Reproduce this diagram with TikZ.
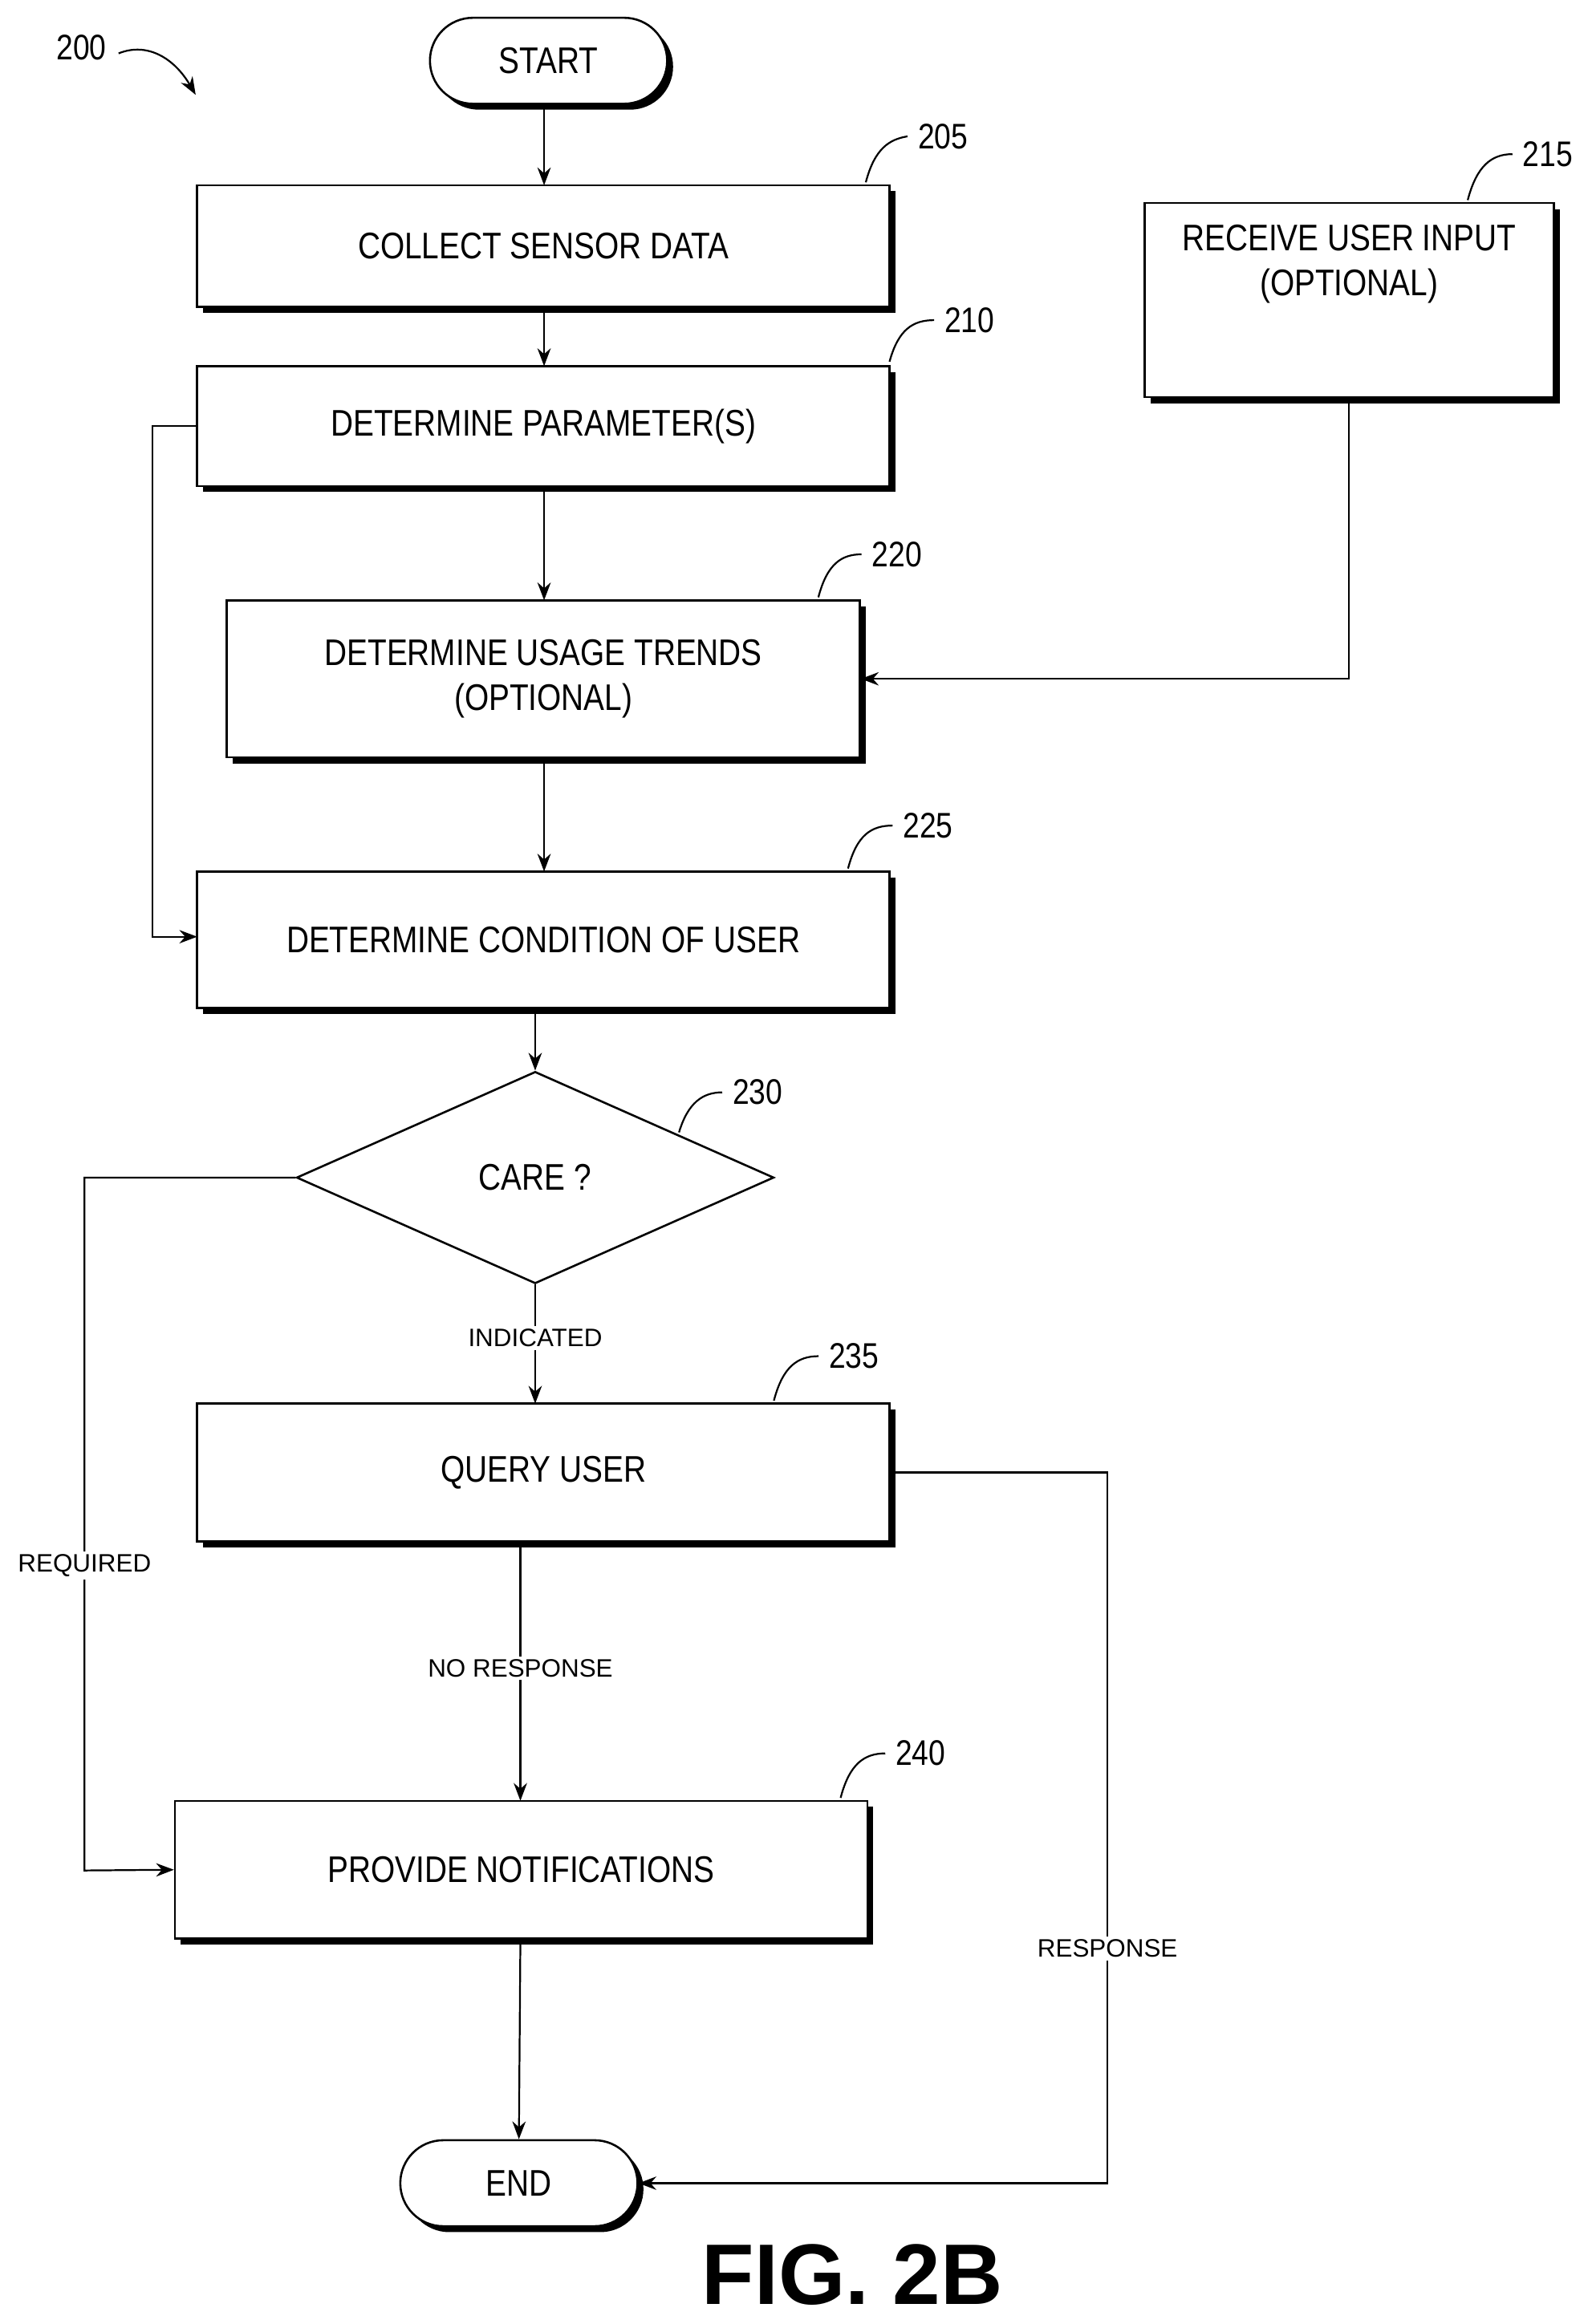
\documentclass[tikz,border=0pt]{standalone}
\usepackage{fontspec}
\setmainfont{Liberation Sans}
\newfontfamily\nar[FakeStretch=0.84]{Liberation Sans}
\usetikzlibrary{shapes.geometric,shadows,arrows.meta}
\begin{document}
\begin{tikzpicture}[x=0.5pt,y=-0.5pt,
 box/.style={draw,fill=white,line width=0.7pt,font=\nar\fontsize{12.5}{15}\selectfont,align=center,inner sep=0pt,
   drop shadow={shadow xshift=2pt,shadow yshift=-2pt,opacity=1,fill=black}},
 pill/.style={box,rounded corners=14.5pt},
 arr/.style={-{Stealth[length=6pt,width=4.5pt]},line width=0.6pt},
 ln/.style={line width=0.6pt},
 lab/.style={font=\fontsize{8.5}{10}\selectfont,fill=white,inner sep=1pt},
 num/.style={font=\nar\fontsize{12}{14}\selectfont}]
\useasboundingbox (0,0) rectangle (1071,1568);
\node[pill,minimum width=80pt,minimum height=29pt] (start) at (370,41) {START};
\node[box,minimum width=233.5pt,minimum height=41pt] (b205) at (366.5,166) {COLLECT SENSOR DATA};
\node[box,minimum width=233.5pt,minimum height=40.5pt] (b210) at (366.5,287.5) {DETERMINE PARAMETER(S)};
\node[box,minimum width=138pt,minimum height=65.5pt] (b215) at (910,202.5) {RECEIVE USER INPUT\\(OPTIONAL)\\[12pt]};
\node[box,minimum width=213.5pt,minimum height=53pt] (b220) at (366.5,458) {DETERMINE USAGE TRENDS\\(OPTIONAL)};
\node[box,minimum width=233.5pt,minimum height=46pt] (b225) at (366.5,634) {DETERMINE CONDITION OF USER};
\node[diamond,draw,line width=0.7pt,aspect=2.25,minimum width=161pt,minimum height=71.5pt,inner sep=0pt,font=\nar\fontsize{12.5}{15}\selectfont] (d230) at (361,794.5) {CARE ?};
\node[box,minimum width=233.5pt,minimum height=46.5pt] (b235) at (366.5,993.5) {QUERY USER};
\node[box,minimum width=233.5pt,minimum height=46.5pt] (b240) at (351.5,1261.5) {PROVIDE NOTIFICATIONS};
\node[pill,minimum width=80pt,minimum height=29pt] (end) at (350,1473) {END};
\node[font=\bfseries\fontsize{29}{32}\selectfont] (fig) at (575,1535) {FIG. 2B};
% numbers
\node[num] (n200) at (55,32) {200};
\draw[ln,-{Stealth[length=6pt,width=4.5pt]}] (80,36) .. controls (100,28) and (118,40) .. (132,64);
\node[num] (n205) at (636,92) {205};
\draw[ln] (584,123) .. controls (590,100) and (600,94) .. (n205.west);
\node[num] (n210) at (654,216) {210};
\draw[ln] (600,244) .. controls (606,222) and (616,216) .. (n210.west);
\node[num] (n215) at (1044,104) {215};
\draw[ln] (990,135) .. controls (996,112) and (1006,104) .. (n215.west);
\node[num] (n220) at (605,374) {220};
\draw[ln] (552,403) .. controls (558,380) and (568,374) .. (n220.west);
\node[num] (n225) at (626,557) {225};
\draw[ln] (572,586) .. controls (578,563) and (588,557) .. (n225.west);
\node[num] (n230) at (511,737) {230};
\draw[ln] (458,764) .. controls (464,744) and (474,737) .. (n230.west);
\node[num] (n235) at (576,915) {235};
\draw[ln] (522,945) .. controls (528,922) and (538,915) .. (n235.west);
\node[num] (n240) at (621,1183) {240};
\draw[ln] (567,1213) .. controls (573,1190) and (583,1183) .. (n240.west);
% connectors
\draw[arr] (start.south -| 367,0) -- (367,125);
\draw[arr] (367,210) -- (367,247);
\draw[arr] (367,331) -- (367,405);
\draw[arr] (367,514) -- (367,588);
\draw[arr] (b210.west) -- (103,287.5) -- (103,632) -- (133,632);
\draw[arr] (b215.south) -- (910,458) -- (b220.east);
\draw[arr] (361,683) -- (d230.north);
\draw[arr] (d230.south) -- (361,947) node[lab,pos=0.45] (li) {INDICATED};
\draw[arr] (d230.west) -- (57,794.5) -- (57,1262) node[lab,pos=0.56] (lr) {REQUIRED} -- (b240.west);
\draw[arr] (351,1043) -- (351,1215) node[lab,pos=0.48] (lnr) {NO RESPONSE};
\draw[arr] (b235.east) -- (747,993.5) -- (747,1473) node[lab,pos=0.67] (lre) {RESPONSE} -- (end.east);
\draw[arr] (351,1311) -- (end.north);
\end{tikzpicture}
\end{document}
